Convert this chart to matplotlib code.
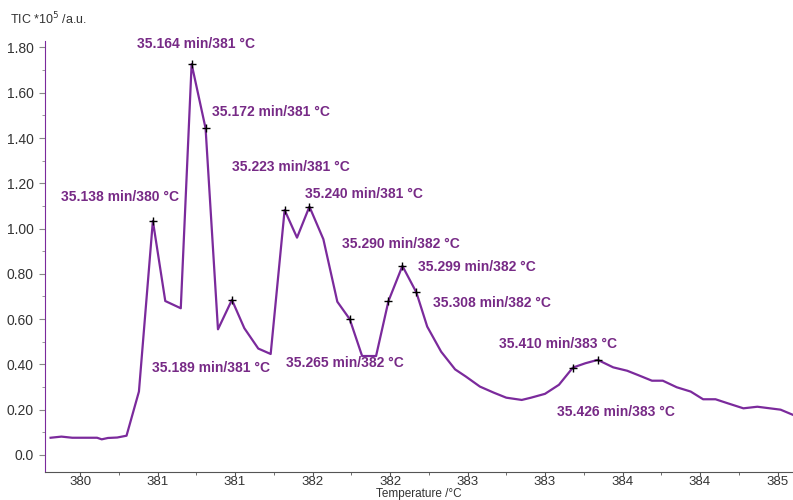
import matplotlib.pyplot as plt
from matplotlib.ticker import FixedLocator, MultipleLocator

# TIC trace (temperature in °C, signal in 1e5 a.u.)
temperature = [379.81, 379.88, 379.95, 380.11, 380.14, 380.18, 380.24, 380.30, 380.38,
               380.47, 380.55, 380.65, 380.72, 380.81, 380.89, 380.98, 381.06, 381.15,
               381.23, 381.32, 381.40, 381.48, 381.57, 381.66, 381.74, 381.82, 381.91,
               381.99, 382.08, 382.17, 382.24, 382.33, 382.42, 382.49, 382.58, 382.67,
               382.75, 382.85, 382.91, 383.00, 383.09, 383.18, 383.26, 383.34, 383.44,
               383.53, 383.60, 383.69, 383.76, 383.85, 383.94, 384.02, 384.10, 384.18,
               384.28, 384.37, 384.52, 384.60]
tic = [0.076, 0.081, 0.076, 0.076, 0.069, 0.075, 0.077, 0.085, 0.28,
       1.034, 0.68, 0.648, 1.727, 1.443, 0.555, 0.685, 0.56, 0.47,
       0.446, 1.082, 0.96, 1.097, 0.953, 0.677, 0.60, 0.437, 0.437,
       0.68, 0.835, 0.718, 0.567, 0.456, 0.378, 0.346, 0.302, 0.275,
       0.253, 0.243, 0.253, 0.27, 0.31, 0.386, 0.405, 0.42, 0.387,
       0.372, 0.353, 0.328, 0.328, 0.299, 0.28, 0.246, 0.246, 0.228,
       0.206, 0.213, 0.20, 0.177]

# marked peaks
peak_temp = [380.47, 380.72, 380.81, 380.98, 381.32, 381.48, 381.74, 381.99,
             382.08, 382.17, 383.18, 383.34]
peak_tic = [1.034, 1.727, 1.443, 0.685, 1.082, 1.097, 0.60, 0.68,
            0.835, 0.718, 0.386, 0.42]

# annotation texts and where they sit (data coords, left / centre anchored)
labels = ['35.138 min/380 °C', '35.164 min/381 °C', '35.172 min/381 °C',
          '35.189 min/381 °C', '35.223 min/381 °C', '35.240 min/381 °C',
          '35.265 min/382 °C', '35.290 min/382 °C', '35.299 min/382 °C',
          '35.308 min/382 °C', '35.410 min/383 °C', '35.426 min/383 °C']
label_x = [379.88, 380.37, 380.85, 380.465, 380.98, 381.45,
           381.33, 381.69, 382.18, 382.28, 382.70, 383.08]
label_y = [1.140, 1.815, 1.515, 0.385, 1.272, 1.153,
           0.406, 0.931, 0.830, 0.671, 0.490, 0.190]

xticks = [380.0, 380.5, 381.0, 381.5, 382.0, 382.5, 383.0, 383.5, 384.0, 384.5]
xtick_labels = ['380', '381', '381', '382', '382', '383', '383', '384', '384', '385']
yticks = [0.0, 0.2, 0.4, 0.6, 0.8, 1.0, 1.2, 1.4, 1.6, 1.8]
ytick_labels = ['0.0', '0.20', '0.40', '0.60', '0.80', '1.00', '1.20', '1.40', '1.60', '1.80']

plt.rcParams['font.family'] = ['Liberation Sans', 'DejaVu Sans']

purple_line = '#7b2a9c'
purple_text = '#772a86'

fig = plt.figure(figsize=(7.93, 5.0), dpi=100)
ax = fig.add_axes([45 / 793, 1 - 471.7 / 500, 1 - 45 / 793, (471.7 - 40.7) / 500])

ax.plot(temperature, tic, color=purple_line, lw=1.6, zorder=2)
ax.plot(peak_temp, peak_tic, linestyle='none', marker='+', color='black',
        markersize=6, markeredgewidth=1.0, zorder=3)

for txt, x, y in zip(labels, label_x, label_y):
    ax.text(x, y, txt, color=purple_text, fontsize=10, fontweight='bold',
            ha='left', va='center')

ax.set_xlim(379.774, 384.6)
ax.set_ylim(-0.074, 1.83)

ax.xaxis.set_major_locator(FixedLocator(xticks))
ax.set_xticklabels(xtick_labels)
ax.xaxis.set_minor_locator(MultipleLocator(0.25))
ax.yaxis.set_major_locator(FixedLocator(yticks))
ax.set_yticklabels(ytick_labels)
ax.yaxis.set_minor_locator(MultipleLocator(0.1))

ax.spines['top'].set_visible(False)
ax.spines['right'].set_visible(False)
ax.spines['left'].set_color(purple_line)
ax.spines['bottom'].set_color('#555555')
ax.tick_params(axis='x', which='major', length=3, color='#555555', labelsize=9.5,
               labelcolor='#333333', pad=0)
ax.tick_params(axis='x', which='minor', length=2, color='#555555')
ax.tick_params(axis='y', which='major', length=4, color='#888888', labelsize=10,
               labelcolor='#333333', pad=4)
ax.tick_params(axis='y', which='minor', length=2, color='#888888')

# axis title squeezed into the strip under the tick labels
fig.text(0.5 * (45 + 793) / 793, 0.0, 'Temperature /°C', fontsize=8.5,
         color='#333333', ha='center', va='bottom')
fig.text(10 / 793, 1 - 19 / 500, 'TIC *10$^5$ /a.u.', fontsize=9, color='#333333',
         ha='left', va='center')

fig.savefig('out.png', dpi=100)
